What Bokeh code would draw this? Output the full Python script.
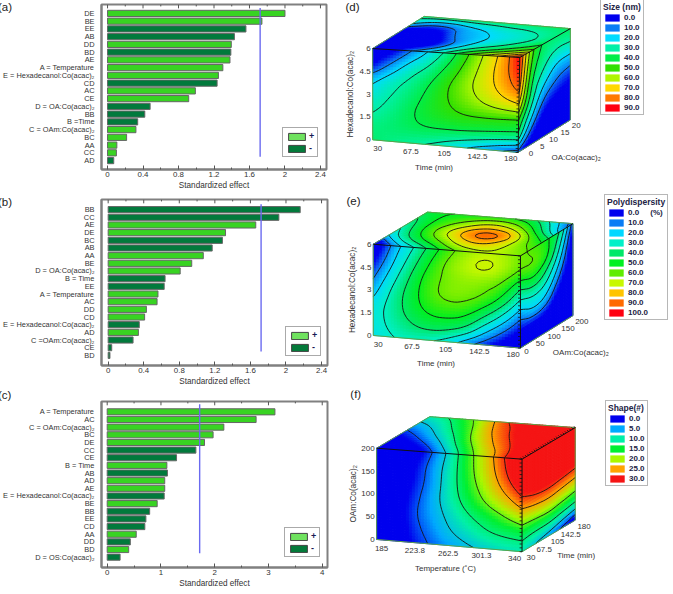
import numpy as np
from bokeh.embed import file_html
from bokeh.resources import INLINE
from bokeh.plotting import figure
from bokeh.layouts import column, row
from bokeh.models import (ColumnDataSource, Div, FactorRange, FixedTicker, Legend, LegendItem, Range1d)
from bokeh.core.properties import value

# ---------- bar data ----------
a_labels = ["DE", "BE", "EE", "AB", "DD", "BD", "AE", "A = Temperature", "E = Hexadecanol:Co(acac)₂", "CD", "AC", "CE",
            "D = OA:Co(acac)₂", "BB", "B =Time", "C = OAm:Co(acac)₂", "BC", "AA", "CC", "AD"]
a_values = [2.0, 1.74, 1.56, 1.43, 1.395, 1.39, 1.38, 1.30, 1.25, 1.235, 0.99, 0.915, 0.48, 0.42, 0.34, 0.32, 0.215, 0.105, 0.10, 0.07]
a_signs = ["+", "+", "-", "-", "+", "-", "+", "+", "+", "-", "+", "+", "-", "-", "-", "+", "+", "+", "+", "-"]

b_labels = ["BB", "CC", "AE", "DE", "BC", "AB", "AA", "BE", "D = OA:Co(acac)₂", "B = Time", "EE", "A = Temperature", "AC", "DD", "CD",
            "E = Hexadecanol:Co(acac)₂", "AD", "C =OAm:Co(acac)₂", "CE", "BD"]
b_values = [2.16, 1.92, 1.66, 1.32, 1.285, 1.17, 1.07, 0.94, 0.81, 0.64, 0.63, 0.56, 0.55, 0.43, 0.41, 0.35, 0.34, 0.28, 0.04, 0.02]
b_signs = ["-", "-", "+", "+", "-", "-", "+", "+", "+", "-", "-", "+", "+", "+", "+", "-", "+", "-", "-", "-"]

c_labels = ["A = Temperature", "AC", "C = OAm:Co(acac)₂", "BC", "DE", "CC", "CE", "B = Time", "AB", "AD", "AE",
            "E = Hexadecanol:Co(acac)₂", "BE", "BB", "EE", "CD", "AA", "DD", "BD", "D = OS:Co(acac)₂"]
c_values = [3.12, 2.77, 2.17, 1.97, 1.81, 1.65, 1.29, 1.11, 1.12, 1.07, 1.07, 1.06, 0.93, 0.79, 0.72, 0.70, 0.54, 0.43, 0.40, 0.24]
c_signs = ["+", "+", "+", "+", "+", "-", "-", "+", "-", "+", "+", "-", "+", "-", "-", "-", "+", "-", "+", "-"]

t_critical = 1.72

a_ticks, a_tick_labels = [0, 0.4, 0.8, 1.2, 1.6, 2, 2.4], ["0", "0.4", "0.8", "1.2", "1.6", "2", "2.4"]
c_ticks, c_tick_labels = [0, 1, 2, 3, 4], ["0", "1", "2", "3", "4"]

# ---------- cube surfaces (rows run top to bottom, columns left to right) ----------
d_front = [[-12, -6, 9, 20, 31.5, 47, 60, 72, 90],
           [-2, 12, 24, 30, 41, 53, 63, 75, 88],
           [18, 26, 31.5, 38.5, 49, 57, 65, 73, 83],
           [25, 30, 35.5, 42.5, 50, 55, 61, 66, 70],
           [29, 33, 39, 44, 47.5, 50, 50, 49.5, 48],
           [34, 36, 38.5, 40, 40, 40, 39, 38, 37],
           [36, 34, 32, 30, 26, 21, 16, 11, 6]]
d_side = [[90, 50, 36, 36, 37],
          [88, 44, 33, 28, 29],
          [83, 37.5, 26, 16, 15],
          [70, 33, 15, 7, 3],
          [48, 24, 3, -3, -5],
          [37, 9, -8, -12, -12],
          [6, -8, -18, -20, -20]]
d_top = [[34, 34, 35, 36, 36, 36, 36, 37, 37],
         [20, 8, 8, 15, 19, 24, 26, 29.5, 34],
         [-15, -16, -8, 12, 16, 19.5, 24, 28, 36],
         [-20, -20, -18, 0, 15, 25, 31, 40, 50],
         [-12, -6, 9, 20, 31.5, 47, 60, 72, 90]]

e_front = [[-15, 13, 27, 42, 56, 65, 69, 68, 62],
           [-2, 18, 34, 50, 63, 69, 73, 69, 61],
           [8, 25, 41, 56, 62.5, 65, 64, 60, 43],
           [16, 32, 45, 57, 63.5, 63, 59, 48, 28],
           [25, 34, 45, 53, 55, 54, 44, 30, 12],
           [26, 33, 40, 45, 45, 41, 25, 12, -2],
           [24, 30, 32, 31.5, 27, 15, 5, -5, -15]]
e_side = [[62, 58, 52, 42, 5],
          [61, 62, 55, 31, -5],
          [43, 51, 40, 20, -10],
          [28, 32, 28, 8, -15],
          [12, 21, 15, -5, -20],
          [-2, -2, -5, -15, -25],
          [-15, -15, -15, -25, -30]]
e_top = [[45, 50, 50, 52, 52, 50, 42, 25, 5],
         [38, 50, 58, 66, 75, 72, 60, 40, 15],
         [30, 48, 63, 78, 92, 96, 86, 62, 45],
         [20, 38, 52, 63, 76, 82, 76, 65, 58],
         [-15, 13, 27, 42, 56, 65, 69, 68, 62]]

f_front = [[-6, -5, -3, 2, 8, 16, 22, 29, 35],
           [-5, -4, -1, 4, 9, 16, 22, 28, 35],
           [-5, -4, 0, 4, 9.5, 15.5, 20.5, 26, 31],
           [-5, -3, 1, 5, 9.5, 14, 18.5, 22, 26.5],
           [-5, -3, 2, 5, 8, 11.5, 14, 17, 20],
           [-5, -3, 1.5, 4, 7, 9, 11.5, 12.5, 13],
           [-5, -3, 0.5, 3, 5, 6.5, 8, 9, 9.5]]
f_side = [[35, 36, 38, 38, 38],
          [35, 36, 36, 36, 36],
          [31, 32.5, 33, 33, 32.5],
          [26.5, 28.5, 29, 28, 27],
          [20, 21, 22, 20.5, 19],
          [13, 13, 13.5, 12, 10.5],
          [9.5, 7, 5, 2, -2]]
f_top = [[10, 11.5, 16, 21, 28, 31, 33, 34, 35],
         [1, 4, 8.5, 13.5, 21, 26.5, 30.5, 33, 35],
         [-6, -5, -3, 2, 8, 16, 22, 29, 35]]

d_legend_values = ["0.0", "10.0", "20.0", "30.0", "40.0", "50.0", "60.0", "70.0", "80.0", "90.0"]
e_legend_values = ["0.0     (%)", "10.0", "20.0", "30.0", "40.0", "50.0", "60.0", "70.0", "80.0", "90.0", "100.0"]
f_legend_values = ["0.0", "5.0", "10.0", "15.0", "20.0", "25.0", "30.0"]

d_palette = ["#0000ee", "#0a7df5", "#00dcff", "#00f0a8", "#00ee48", "#30e000", "#aff500", "#ffd800", "#ff7a00", "#ff0010"]
e_palette = ["#0000ee", "#0a7df5", "#00d8ff", "#00f0c8", "#00e868", "#00f020", "#60ec00", "#c8f800", "#ffc400", "#ff6a00", "#ff0010"]
f_palette = ["#0000ee", "#00aaff", "#00f0a8", "#00f030", "#aaf800", "#ffa400", "#f51414"]

d_levels = [10, 20, 30, 40, 50, 60, 70, 80]
e_levels = [10, 20, 30, 40, 50, 60, 70, 80, 88]
f_levels = [2.5, 7, 12, 18, 25, 29]

SY = 0.995
SXR = 0.985
ROWS = [(0, 195), (195, 197), (392, 202)]
LEFT_TOTAL, LEFT_BORDER, RIGHT_W = 337, 98, 328
FONT = "Liberation Sans"
TXT = "#333333"


def px(v):
    return f"{v:.2f}px"


def bar_panel(labels, values, signs, ticks, tick_labels, minor, frame_w, frame_top, frame_bottom, row_i,
              pad, line_top, line_bottom, legend_xy, xr):
    base, H = ROWS[row_i]
    fh = round(frame_bottom * SY) - round(frame_top * SY)
    p = figure(frame_width=frame_w, frame_height=fh, output_backend="svg", toolbar_location=None,
               x_range=Range1d(*xr), y_range=FactorRange(factors=labels[::-1], range_padding=pad, range_padding_units="absolute"),
               min_border_left=LEFT_BORDER, min_border_right=LEFT_TOTAL - LEFT_BORDER - frame_w,
               min_border_top=round((frame_top - base) * SY), min_border_bottom=round((base + H - frame_bottom) * SY),
               background_fill_color="white", border_fill_color="white", border_fill_alpha=0)
    p.grid.visible = False
    p.outline_line_color = "#808080"
    p.outline_line_width = 2
    pos = ColumnDataSource(dict(y=[l for l, s in zip(labels, signs) if s == "+"], right=[v for v, s in zip(values, signs) if s == "+"]))
    neg = ColumnDataSource(dict(y=[l for l, s in zip(labels, signs) if s == "-"], right=[v for v, s in zip(values, signs) if s == "-"]))
    p.hbar(y="y", right="right", left=0, height=0.8, source=pos, fill_color="#38d322", line_color="#666666", line_width=1)
    p.hbar(y="y", right="right", left=0, height=0.8, source=neg, fill_color="#017a3c", line_color="#666666", line_width=1)
    p.line(x=[t_critical, t_critical], y=[(labels[-1], line_bottom), (labels[0], line_top)], line_color="#6a6af0", line_width=1.4)
    # ticks on the top edge of the frame
    top_edge = 0.5 + pad
    for tk, ln in ((ticks, 0.5), (minor, 0.25)):
        p.segment(x0=tk, x1=tk, y0=[(labels[0], top_edge)] * len(tk), y1=[(labels[0], top_edge - ln)] * len(tk),
                  line_color="#555555", line_width=1)

    ax = p.xaxis[0]
    ax.ticker = FixedTicker(ticks=ticks, minor_ticks=minor)
    ax.major_label_overrides = {t: l for t, l in zip(ticks, tick_labels)}
    ax.axis_label = "Standardized effect"
    ax.axis_label_text_font = FONT
    ax.axis_label_text_font_style = "normal"
    ax.axis_label_text_font_size = px(8.2)
    ax.axis_label_text_color = TXT
    ax.axis_label_standoff = 1
    ax.major_label_text_font = FONT
    ax.major_label_text_font_size = px(7.9)
    ax.major_label_text_color = TXT
    ax.major_label_standoff = 2
    ax.major_tick_in, ax.major_tick_out = 4, 0
    ax.minor_tick_in, ax.minor_tick_out = 2, 0
    ax.major_tick_line_color = "#555555"
    ax.minor_tick_line_color = "#555555"
    ax.axis_line_color = "#808080"
    ax.axis_line_width = 2
    ay = p.yaxis[0]
    ay.major_tick_line_color = None
    ay.minor_tick_line_color = None
    ay.axis_line_color = "#808080"
    ay.axis_line_width = 2
    ay.major_label_text_font = FONT
    ay.major_label_text_font_size = px(7.4)
    ay.major_label_text_color = TXT
    ay.major_label_standoff = 1
    r1 = p.hbar(y=[labels[0]], right=[float("nan")], left=[float("nan")], height=0.8, fill_color="#6fe25e", line_color="#444444", line_width=1)
    r2 = p.hbar(y=[labels[0]], right=[float("nan")], left=[float("nan")], height=0.8, fill_color="#047a3a", line_color="#444444", line_width=1)
    leg = Legend(items=[LegendItem(label="+", renderers=[r1]), LegendItem(label="-", renderers=[r2])],
                 location=legend_xy, orientation="vertical", glyph_width=21, glyph_height=9, label_height=9, label_width=4,
                 spacing=2, padding=3, margin=0, label_standoff=2, border_line_color="#555555", border_line_width=1.5,
                 background_fill_color="white", background_fill_alpha=1, label_text_font=FONT,
                 label_text_font_size=px(9), label_text_font_style="bold", label_text_color="#1a1a55")
    p.add_layout(leg, "center")
    return p


def panel_tag(text, top):
    return Div(text=text, width=24, height=14, margin=(0, 0, -14, 0),
               styles={"position": "relative", "left": "-2px", "top": f"{top}px", "z-index": "10",
                       "font-family": FONT, "font-size": "11.5px", "color": "#222222", "line-height": "12px"})


def smooth_field(G, nu, nv):
    G = np.asarray(G, float)
    rows, cols = G.shape
    ui = np.linspace(0, cols - 1, nu)
    vi = np.linspace(0, rows - 1, nv)
    R = np.array([np.interp(ui, np.arange(cols), r) for r in G])
    F = np.array([np.interp(vi, np.arange(rows), c) for c in R.T]).T

    def box(A, width):
        width = max(1, int(round(width))) | 1
        k = width // 2
        if k == 0:
            return A
        P = np.concatenate([2 * A[:1] - A[k:0:-1], A, 2 * A[-1:] - A[-2:-k - 2:-1]], axis=0)
        C = np.cumsum(np.concatenate([np.zeros((1,) + A.shape[1:]), P], axis=0), axis=0)
        return (C[width:] - C[:-width]) / width

    F = box(F, (nv - 1) / (rows - 1))
    F = box(F.T, (nu - 1) / (cols - 1)).T
    return F


def colour_of(vals, vmax, palette):
    rgb = np.array([[int(c[i:i + 2], 16) for i in (1, 3, 5)] for c in palette], float)
    t = np.clip(vals / vmax, 0, 1) * (len(palette) - 1)
    out = [np.interp(t, np.arange(len(palette)), rgb[:, k]) for k in range(3)]
    return ["#%02x%02x%02x" % (int(a), int(b), int(c)) for a, b, c in zip(out[0].ravel(), out[1].ravel(), out[2].ravel())]


def bilin(A, B, C, D, a, b):
    x = (1 - a) * (1 - b) * A[0] + a * (1 - b) * B[0] + a * b * C[0] + (1 - a) * b * D[0]
    y = (1 - a) * (1 - b) * A[1] + a * (1 - b) * B[1] + a * b * C[1] + (1 - a) * b * D[1]
    return x, y


def draw_face(p, grid, A, B, C, D, vmax, palette, levels, cell=3.0):
    w = max(np.hypot(B[0] - A[0], B[1] - A[1]), np.hypot(C[0] - D[0], C[1] - D[1]))
    h = max(np.hypot(D[0] - A[0], D[1] - A[1]), np.hypot(C[0] - B[0], C[1] - B[1]))
    nu, nv = max(int(w / cell), 4) + 1, max(int(h / cell), 4) + 1
    F = smooth_field(grid, nu, nv)
    a = np.linspace(0, 1, nu)
    b = np.linspace(0, 1, nv)
    aa, bb = np.meshgrid(a, b)
    X, Y = bilin(A, B, C, D, aa, bb)
    xs, ys = [], []
    for j in range(nv - 1):
        for i in range(nu - 1):
            xs.append([X[j, i], X[j, i + 1], X[j + 1, i + 1], X[j + 1, i]])
            ys.append([Y[j, i], Y[j, i + 1], Y[j + 1, i + 1], Y[j + 1, i]])
    mid = (F[:-1, :-1] + F[1:, :-1] + F[:-1, 1:] + F[1:, 1:]) / 4
    cols = colour_of(mid, vmax, palette)
    p.patches(xs=xs, ys=ys, fill_color=cols, line_color=cols, line_width=1)
    sx0, sy0, sx1, sy1 = [], [], [], []
    for lev in levels:
        for j in range(nv - 1):
            for i in range(nu - 1):
                c = [F[j, i], F[j, i + 1], F[j + 1, i + 1], F[j + 1, i]]
                q = [(i, j), (i + 1, j), (i + 1, j + 1), (i, j + 1)]
                pts = []
                for k in range(4):
                    v0, v1 = c[k], c[(k + 1) % 4]
                    if (v0 < lev) != (v1 < lev):
                        t = (lev - v0) / (v1 - v0)
                        q0, q1 = q[k], q[(k + 1) % 4]
                        pts.append((q0[0] + t * (q1[0] - q0[0]), q0[1] + t * (q1[1] - q0[1])))
                for m in range(0, len(pts) - 1, 2):
                    x0, y0 = bilin(A, B, C, D, pts[m][0] / (nu - 1), pts[m][1] / (nv - 1))
                    x1, y1 = bilin(A, B, C, D, pts[m + 1][0] / (nu - 1), pts[m + 1][1] / (nv - 1))
                    sx0.append(x0); sy0.append(y0); sx1.append(x1); sy1.append(y1)
    p.segment(x0=sx0, y0=sy0, x1=sx1, y1=sy1, line_color="#141414", line_width=0.9)


def cube_panel(row_i, TL, BL, BR, TR, BTR, BBR, BTL, front, side, top, vmax, palette, levels, panel, panel_xy,
               xt, xvals, zt, zvals, yt, yvals, xlabel, zlabel, ylabel, xlabel_off, zlabel_off, ylabel_dx, z0_off, z1_off,
               top_ticks, legend_title, legend_vals, legend_left, legend_bottom):
    base, H = ROWS[row_i]
    p = figure(width=RIGHT_W, height=round(H * SY), output_backend="svg", toolbar_location=None,
               x_range=Range1d(340, 673), y_range=Range1d(base + H, base), min_border=0,
               x_axis_location=None, y_axis_location=None,
               background_fill_color="white", border_fill_color="white", outline_line_color=None)
    p.grid.visible = False
    draw_face(p, top, BTL, BTR, TR, TL, vmax, palette, levels)
    draw_face(p, front, TL, TR, BR, BL, vmax, palette, levels)
    draw_face(p, side, TR, BTR, BBR, BR, vmax, palette, levels)
    for P, Q in [(TL, BL), (BL, BR), (BR, BBR), (BBR, BTR), (BTR, BTL), (BTL, TL)]:
        p.line([P[0], Q[0]], [P[1], Q[1]], line_color="#5ea04a", line_width=1)
    for P, Q in [(TL, TR), (TR, BR), (TR, BTR)]:
        p.line([P[0], Q[0]], [P[1], Q[1]], line_color="#101010", line_width=1)
    t = np.linspace(0, 1, 25)
    p.segment(x0=TR[0] + t * (BR[0] - TR[0]), y0=TR[1] + t * (BR[1] - TR[1]), x1=TR[0] + t * (BR[0] - TR[0]) - 2.5, y1=TR[1] + t * (BR[1] - TR[1]),
              line_color="#101010", line_width=0.8)
    if top_ticks:
        p.segment(x0=TR[0] + t * (BTR[0] - TR[0]), y0=TR[1] + t * (BTR[1] - TR[1]), x1=TR[0] + t * (BTR[0] - TR[0]) - 1.5, y1=TR[1] + t * (BTR[1] - TR[1]) - 1.5,
                  line_color="#101010", line_width=0.8)
    text_kw = dict(text_font=value(FONT), text_font_size=value(px(8)), text_color=TXT)
    # axis tick labels placed through the cube projection
    xf = (np.array(xvals, float) - xvals[0]) / (xvals[-1] - xvals[0])
    p.text(x=BL[0] + xf * (BR[0] - BL[0]) + 5 - 12.5 * xf, y=BL[1] + xf * (BR[1] - BL[1]) + 9 - 2.5 * xf, text=xt,
           text_align="center", text_baseline="middle", **text_kw)
    zf = (np.array(zvals, float) - zvals[0]) / (zvals[-1] - zvals[0])
    p.text(x=BR[0] + zf * (BBR[0] - BR[0]) + z0_off[0] + zf * (z1_off[0] - z0_off[0]),
           y=BR[1] + zf * (BBR[1] - BR[1]) + z0_off[1] + zf * (z1_off[1] - z0_off[1]), text=zt, text_align="center", text_baseline="middle", **text_kw)
    yf = (np.array(yvals, float) - yvals[0]) / (yvals[-1] - yvals[0])
    p.text(x=BL[0] - 2 + 0 * yf, y=BL[1] + yf * (TL[1] - BL[1]), text=yt, text_align="right", text_baseline="middle", **text_kw)
    p.text(x=[(BL[0] + BR[0]) / 2 + xlabel_off[0]], y=[(BL[1] + BR[1]) / 2 + xlabel_off[1]], text=[xlabel], text_align="center", text_baseline="middle", **text_kw)
    p.text(x=[BBR[0] + zlabel_off[0]], y=[BR[1] + zlabel_off[1]], text=[zlabel], text_align="center", text_baseline="middle", **text_kw)
    p.text(x=[BL[0] + ylabel_dx], y=[(TL[1] + BL[1]) / 2], text=[ylabel], angle=[np.pi / 2], text_align="center", text_baseline="middle",
           text_font=value(FONT), text_font_size=value(px(8.2)), text_color=TXT)
    p.text(x=[panel_xy[0]], y=[panel_xy[1]], text=[panel], text_align="left", text_baseline="middle", text_font=value(FONT), text_font_size=value(px(11.5)), text_color="#222222")
    items = []
    for lab, c in zip(legend_vals, palette):
        r = p.quad(left=[float("nan")], right=[float("nan")], top=[float("nan")], bottom=[float("nan")], fill_color=c, line_color=None)
        items.append(LegendItem(label=lab, renderers=[r]))
    leg = Legend(items=items, location=(round((legend_left - 340) * SXR), round((base + H - legend_bottom) * SY)), title=legend_title,
                 title_text_font=FONT, title_text_font_size=px(8.5), title_text_font_style="bold",
                 title_text_color="#222244", title_standoff=1, orientation="vertical", glyph_width=18, glyph_height=9, label_height=9,
                 label_width=16, spacing=1, padding=2, margin=0, label_standoff=3, border_line_color="#707070", border_line_width=1.5,
                 background_fill_color="white", background_fill_alpha=1, label_text_font=FONT, label_text_font_size=px(8), label_text_font_style="bold",
                 label_text_color="#222244")
    p.add_layout(leg, "center")
    return p


A = bar_panel(a_labels, a_values, a_signs, a_ticks, a_tick_labels, [0.2, 0.6, 1.0, 1.4, 1.8, 2.2], 225, 4, 170, 0, 0.65, 0.7, 0.5,
              (181, 12), (-0.068, 2.468))
B = bar_panel(b_labels, b_values, b_signs, a_ticks, a_tick_labels, [0.2, 0.6, 1.0, 1.4, 1.8, 2.2], 226, 200, 367, 1, 0.82, 0.7, 0.5,
              (184, 9), (-0.075, 2.467))
C = bar_panel(c_labels, c_values, c_signs, c_ticks, c_tick_labels, [0.5, 1.5, 2.5, 3.5], 226, 403, 570, 2, 0.85, 1.0, 0.5,
              (183, 10), (-0.106, 4.098))

D = cube_panel(0, (372.7, 48.3), (372.7, 140), (520.3, 152.7), (522, 57.3), (573.3, 28.3), (573.3, 120), (425, 16),
               d_front, d_side, d_top, 90, d_palette, d_levels, "(d)", (345, 7),
               ["30", "67.5", "105", "142.5", "180"], [30, 67.5, 105, 142.5, 180], ["0", "5", "10", "15", "20"], [0, 5, 10, 15, 20],
               ["0", "1.5", "3", "4.5", "6"], [0, 1.5, 3, 4.5, 6], "Time (min)", "OA:Co(acac)₂", "Hexadecanol:Co(acac)₂",
               (-11.5, 22), (6, 5), -23, (13, 1), (6, 6), False, "Size (nm)", d_legend_values, 604, 116)
E = cube_panel(1, (373.3, 245), (373.3, 336.7), (522.7, 349.3), (522.7, 256.7), (576, 224.3), (576, 316.7), (428.3, 212.7),
               e_front, e_side, e_top, 100, e_palette, e_levels, "(e)", (346, 202),
               ["30", "67.5", "105", "142.5", "180"], [30, 67.5, 105, 142.5, 180], ["0", "50", "100", "150", "200"], [0, 50, 100, 150, 200],
               ["0", "1.5", "3", "4.5", "6"], [0, 1.5, 3, 4.5, 6], "Time (min)", "OAm:Co(acac)₂", "Hexadecanol:Co(acac)₂",
               (-11, 22), (8, 5), -21, (6, 3), (9, 6), False, "Polydispersity", e_legend_values, 608, 322)
F = cube_panel(2, (376.7, 450), (376.7, 541.7), (524.3, 554), (524.3, 461), (578.3, 429.3), (578.3, 522.3), (430.7, 418.3),
               f_front, f_side, f_top, 30, f_palette, f_levels, "(f)", (350, 396),
               ["185", "223.8", "262.5", "301.3", "340"], [185, 223.8, 262.5, 301.3, 340], ["30", "67.5", "105", "142.5", "180"], [30, 67.5, 105, 142.5, 180],
               ["0", "50", "100", "150", "200"], [0, 50, 100, 150, 200], "Temperature (˚C)", "Time (min)", "OAm:Co(acac)₂",
               (-4, 23), (1, 4), -23, (9, 6), (9, 6), True, "Shape(#)", f_legend_values, 609, 488)

left_col = column(panel_tag("(a)", 1), A, panel_tag("(b)", 2), B, panel_tag("(c)", -1), C)
right_col = column(D, E, F)
page = row(left_col, right_col)
open("out.html", "w").write(file_html(page, INLINE))
